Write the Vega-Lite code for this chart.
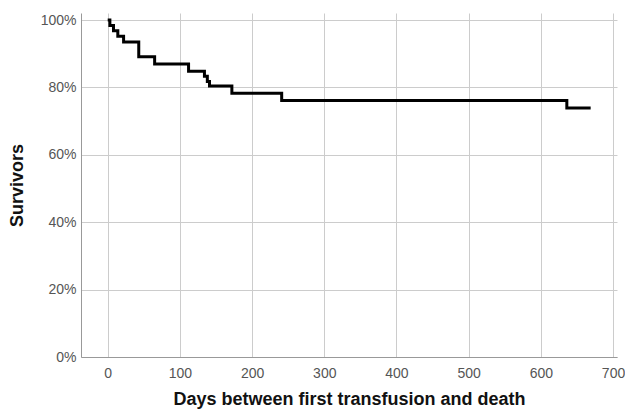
{
  "$schema": "https://vega.github.io/schema/vega-lite/v6.json",
  "autosize": "none",
  "width": 536,
  "height": 344,
  "padding": {"left": 81, "top": 13, "right": 8, "bottom": 56},
  "background": "white",
  "config": {
    "view": {"stroke": null},
    "font": "Liberation Sans",
    "axis": {
      "labelFont": "Liberation Sans",
      "labelFontSize": 14,
      "labelColor": "#555555",
      "titleFont": "Liberation Sans",
      "titleFontSize": 18,
      "titleFontWeight": "bold",
      "titleColor": "#111111",
      "gridColor": "#cccccc",
      "gridWidth": 1,
      "gridOpacity": 1,
      "domainColor": "#999999",
      "domainWidth": 1,
      "ticks": false,
      "tickSize": 0
    }
  },
  "data": {
    "values": [
      {"day": 0, "surv": 1.0},
      {"day": 3, "surv": 0.984},
      {"day": 8, "surv": 0.968},
      {"day": 14, "surv": 0.952},
      {"day": 22, "surv": 0.935},
      {"day": 43, "surv": 0.891},
      {"day": 65, "surv": 0.870},
      {"day": 112, "surv": 0.848},
      {"day": 134, "surv": 0.833},
      {"day": 138, "surv": 0.818},
      {"day": 141, "surv": 0.804},
      {"day": 172, "surv": 0.783},
      {"day": 241, "surv": 0.761},
      {"day": 636, "surv": 0.739},
      {"day": 669, "surv": 0.739}
    ]
  },
  "mark": {"type": "line", "interpolate": "step-after", "color": "#000000", "strokeWidth": 3, "strokeJoin": "miter", "strokeCap": "butt"},
  "encoding": {
    "x": {
      "field": "day",
      "type": "quantitative",
      "scale": {"domain": [-37, 705.5], "nice": false, "zero": false},
      "axis": {
        "title": "Days between first transfusion and death",
        "values": [0, 100, 200, 300, 400, 500, 600, 700],
        "labelPadding": 9,
        "titlePadding": 10,
        "labelFlush": false
      }
    },
    "y": {
      "field": "surv",
      "type": "quantitative",
      "scale": {"domain": [0, 1.021], "nice": false},
      "axis": {
        "title": "Survivors",
        "values": [0, 0.2, 0.4, 0.6, 0.8, 1.0],
        "format": ".0%",
        "labelPadding": 5,
        "titlePadding": 14
      }
    }
  }
}
